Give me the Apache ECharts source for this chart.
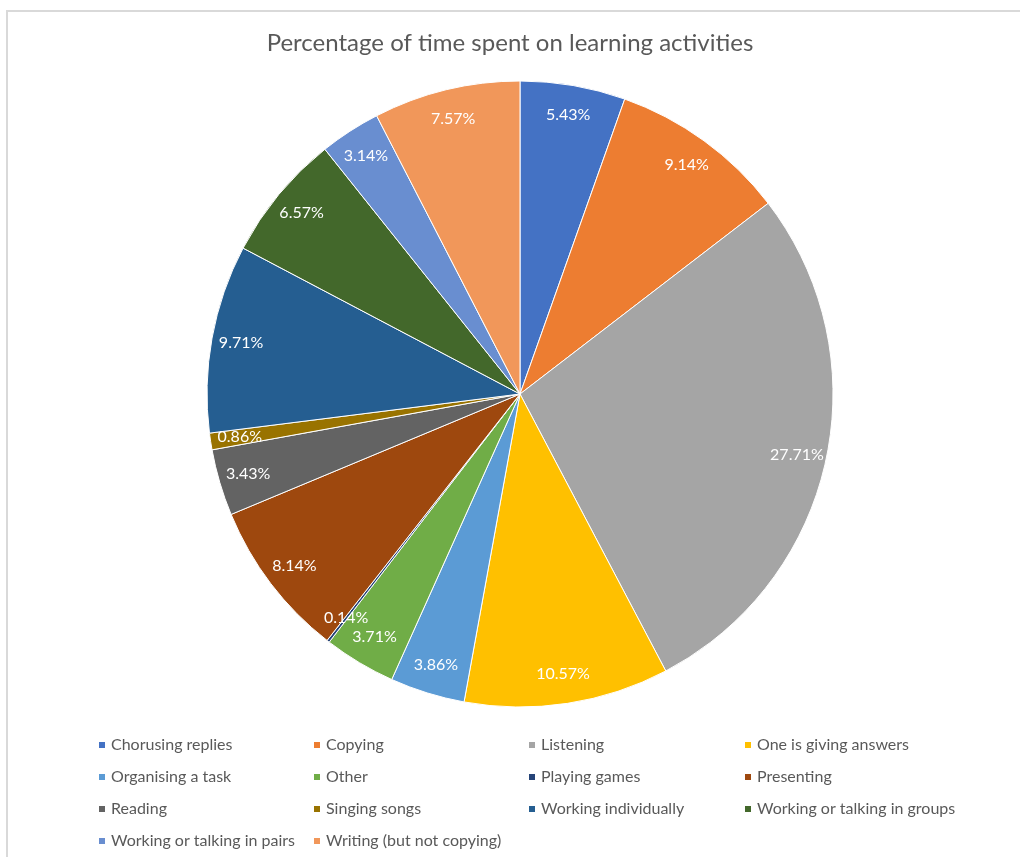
<!DOCTYPE html>
<html>
<head>
<meta charset="utf-8">
<script src="https://cdn.jsdelivr.net/npm/echarts@6/dist/echarts.min.js"></script>
<style>
html,body{margin:0;padding:0;background:#fff;}
#chart{width:1020px;height:857px;}
</style>
</head>
<body>
<div id="chart"></div>
<script>
const categories = [
  'Chorusing replies', 'Copying', 'Listening', 'One is giving answers',
  'Organising a task', 'Other', 'Playing games', 'Presenting',
  'Reading', 'Singing songs', 'Working individually', 'Working or talking in groups',
  'Working or talking in pairs', 'Writing (but not copying)'
];
const values = [5.43, 9.14, 27.71, 10.57, 3.86, 3.71, 0.14, 8.14, 3.43, 0.86, 9.71, 6.57, 3.14, 7.57];
const colors = [
  '#4472C4', '#ED7D31', '#A5A5A5', '#FFC000',
  '#5B9BD5', '#70AD47', '#264478', '#9E480E',
  '#636363', '#997300', '#255E91', '#43682B',
  '#698ED0', '#F1975A'
];
const titleText = 'Percentage of time spent on learning activities';

const FONT = 'Lato, "Open Sans", sans-serif';
const pieData = categories.map((n, i) => ({ name: n, value: values[i], itemStyle: { color: colors[i] } }));
const labelData = categories.map((n, i) => ({ name: n, value: values[i] }));

const legendCols = [97, 312, 527, 743];
const legends = legendCols.map((x, c) => ({
  orient: 'vertical',
  left: x,
  top: 736,
  padding: 0,
  itemGap: 14,
  itemWidth: 8,
  itemHeight: 8,
  icon: 'rect',
  selectedMode: false,
  data: categories.filter((_, i) => i % 4 === c),
  textStyle: { color: '#595959', fontSize: 16, fontFamily: FONT, lineHeight: 18 }
}));

const chart = echarts.init(document.getElementById('chart'), null, { renderer: 'canvas' });
chart.setOption({
  animation: false,
  backgroundColor: '#ffffff',
  title: {
    text: titleText,
    left: 'center',
    top: 31,
    padding: 0,
    textStyle: { color: '#595959', fontSize: 24, fontWeight: 'normal', fontFamily: FONT }
  },
  legend: legends,
  graphic: [{
    type: 'rect',
    shape: { x: 7, y: 11, width: 1200, height: 1000 },
    style: { fill: 'none', stroke: '#D9D9D9', lineWidth: 2 },
    silent: true
  }],
  series: [
    {
      type: 'pie',
      center: [520, 394],
      radius: [0, 313],
      startAngle: 90,
      clockwise: true,
      avoidLabelOverlap: false,
      label: { show: false },
      labelLine: { show: false },
      itemStyle: { borderColor: '#ffffff', borderWidth: 1 },
      emphasis: { disabled: true },
      data: pieData
    },
    {
      type: 'pie',
      center: [520, 394],
      radius: [248, 313],
      startAngle: 90,
      clockwise: true,
      silent: true,
      avoidLabelOverlap: false,
      itemStyle: { color: 'rgba(0,0,0,0)', borderWidth: 0 },
      label: {
        show: true,
        position: 'inside',
        color: '#ffffff',
        fontSize: 16,
        fontFamily: FONT,
        formatter: p => p.value.toFixed(2) + '%'
      },
      labelLine: { show: false },
      emphasis: { disabled: true },
      data: labelData
    }
  ]
});
</script>
</body>
</html>
